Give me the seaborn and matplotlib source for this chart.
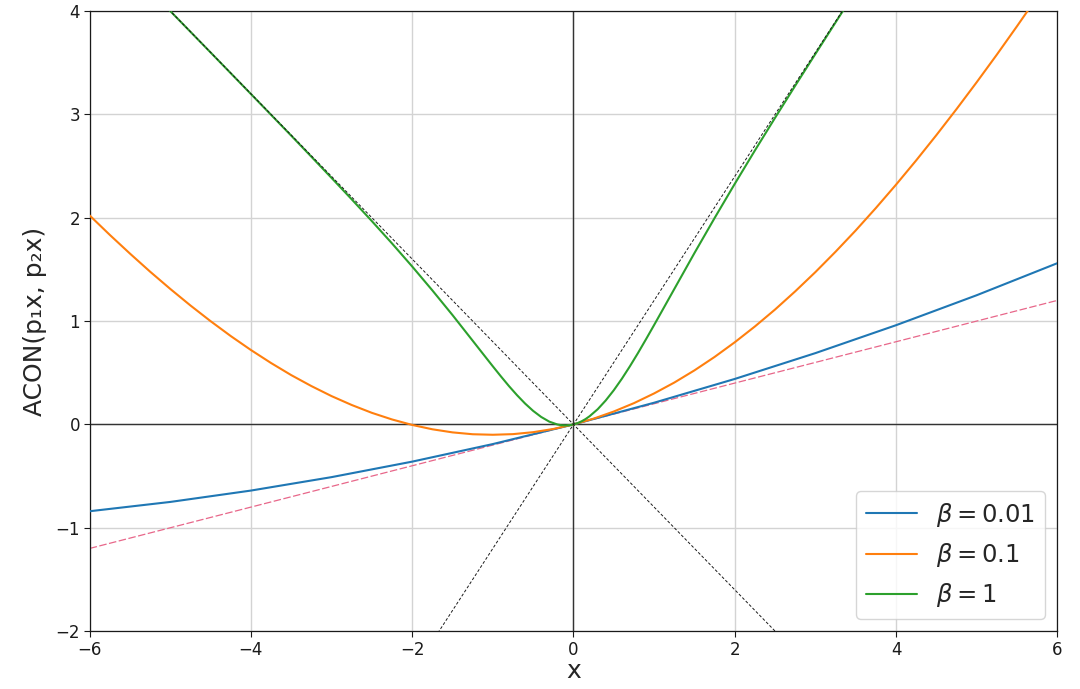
import numpy as np
import pandas as pd
import seaborn as sns
import matplotlib.pyplot as plt

# values
x_b001 = [-6, -5, -4, -3, -2, -1, 0, 1, 2, 3, 4, 5, 6]
y_b001 = [-0.84, -0.75, -0.64, -0.51, -0.36, -0.19, 0.0, 0.21, 0.44, 0.69, 0.96, 1.25, 1.56]

x_b01 = [-6, -5.75, -5.5, -5.25, -5, -4.75, -4.5, -4.25, -4, -3.75, -3.5, -3.25, -3, -2.75,
         -2.5, -2.25, -2, -1.75, -1.5, -1.25, -1, -0.75, -0.5, -0.25, 0,
         0.25, 0.5, 0.75, 1, 1.25, 1.5, 1.75, 2, 2.25, 2.5, 2.75, 3, 3.25, 3.5,
         3.75, 4, 4.25, 4.5, 4.75, 5, 5.25, 5.5, 5.75, 6]
y_b01 = [2.022, 1.834, 1.653, 1.478, 1.311, 1.151, 0.999, 0.855, 0.720, 0.594, 0.477, 0.371, 0.274, 0.188,
         0.112, 0.048, -0.005, -0.047, -0.077, -0.095, -0.100, -0.094, -0.075, -0.044, 0.0,
         0.056, 0.125, 0.206, 0.300, 0.405, 0.523, 0.653, 0.795, 0.948, 1.112, 1.288, 1.474, 1.671, 1.877,
         2.094, 2.320, 2.555, 2.799, 3.051, 3.311, 3.578, 3.853, 4.134, 4.422]

x_b1 = [-5.5, -5, -4.5, -4, -3.5, -3.25, -3, -2.75, -2.5, -2.25, -2, -1.75, -1.5, -1.25, -1.1,
        -1, -0.9, -0.8, -0.7, -0.6, -0.5, -0.4, -0.3, -0.2, -0.15, -0.1, -0.05, 0,
        0.05, 0.1, 0.15, 0.2, 0.3, 0.4, 0.5, 0.6, 0.7, 0.8, 0.9, 1, 1.1, 1.25,
        1.5, 1.75, 2, 2.25, 2.5, 2.75, 3, 3.25, 3.5]
y_b1 = [4.40, 3.9995, 3.599, 3.197, 2.794, 2.590, 2.385, 2.178, 1.967, 1.751, 1.528, 1.297, 1.058, 0.810, 0.661,
        0.562, 0.465, 0.371, 0.283, 0.202, 0.131, 0.072, 0.027, -0.0005, -0.008, -0.010, -0.008, 0.0,
        0.0125, 0.030, 0.052, 0.0795, 0.147, 0.232, 0.331, 0.442, 0.563, 0.691, 0.825, 0.962, 1.101, 1.310,
        1.658, 1.997, 2.328, 2.651, 2.967, 3.278, 3.585, 3.890, 4.194]

# straight reference lines through the origin
ref_x = [-6, 6]
upper_y = [-7.2, 7.2]     # slope p1 = 1.2
lower_y = [4.8, -4.8]     # slope p2 = -0.8
mean_y = [-1.2, 1.2]      # slope (p1 + p2) / 2

labels = [r'$\beta=0.01$', r'$\beta=0.1$', r'$\beta=1$']

df = pd.concat([
    pd.DataFrame({'x': x_b001, 'y': y_b001, 'beta': labels[0]}),
    pd.DataFrame({'x': x_b01, 'y': y_b01, 'beta': labels[1]}),
    pd.DataFrame({'x': x_b1, 'y': y_b1, 'beta': labels[2]}),
])

sns.set_theme(style="whitegrid", rc={'axes.edgecolor': 'k', 'grid.color': '#d3d3d3',
                                     'xtick.bottom': True, 'ytick.left': True,
                                     'xtick.color': 'k', 'ytick.color': 'k'})
plt.rcParams['font.family'] = ['DejaVu Sans']

fig, ax = plt.subplots(figsize=(10.8, 6.89), dpi=100)
fig.subplots_adjust(left=0.083, right=0.979, top=0.984, bottom=0.084)

ax.axhline(0, color='#333333', lw=1.0, zorder=1)
ax.axvline(0, color='#333333', lw=1.0, zorder=1)

ax.plot(ref_x, mean_y, color='#e8678a', lw=0.9, ls=(0, (6, 2)), zorder=2)

sns.lineplot(data=df, x='x', y='y', hue='beta', sort=False, estimator=None,
             palette=['#1f77b4', '#ff7f0e', '#2ca02c'], lw=1.5, ax=ax, zorder=3)

ax.plot(ref_x, upper_y, color='k', lw=0.7, ls=(0, (3, 2)), zorder=4)
ax.plot(ref_x, lower_y, color='k', lw=0.7, ls=(0, (3, 2)), zorder=4)

ax.set_xlim(-6, 6)
ax.set_ylim(-2, 4)
ax.set_xticks([-6, -4, -2, 0, 2, 4, 6])
ax.set_yticks([-2, -1, 0, 1, 2, 3, 4])
ax.tick_params(labelsize=12, length=4, width=0.8, pad=3)
for s in ax.spines.values():
    s.set_linewidth(0.9)

ax.set_xlabel('x', fontsize=18, labelpad=0)
ax.set_ylabel('ACON(p₁x, p₂x)', fontsize=18, labelpad=6)

ax.legend(title=None, loc='lower right', fontsize=17.5, handlelength=2.1, framealpha=0.8)

fig.savefig('out.png', dpi=100)
